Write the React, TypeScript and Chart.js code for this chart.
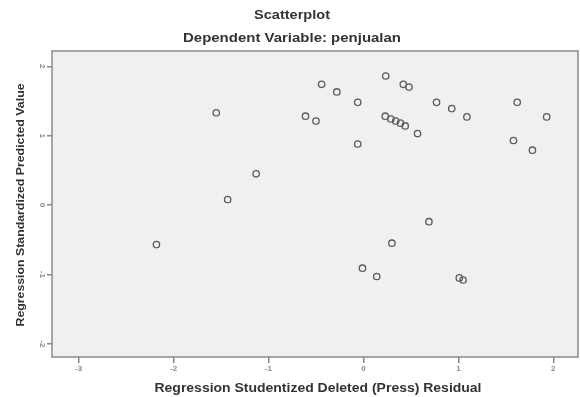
import React, { useEffect, useRef } from "react";
import { Chart, registerables } from "chart.js";

Chart.register(...registerables);

const titleText = "Scatterplot";
const subtitleText = "Dependent Variable: penjualan";
const xAxisTitle = "Regression Studentized Deleted (Press) Residual";
const yAxisTitle = "Regression Standardized Predicted Value";

const xTicks = [-3, -2, -1, 0, 1, 2];
const yTicks = [-2, -1, 0, 1, 2];

const residuals = [
  -1.55, -0.44, -0.28, -0.06, 0.235, 0.42, 0.48, 0.77, 0.93, 1.09, 1.62, 1.93,
  1.58, 1.78, -0.61, -0.5, 0.23, 0.29, 0.34, 0.39, 0.44, 0.57, -0.06, -1.13,
  -1.43, -2.18, 0.69, 0.3, -0.01, 0.14, 1.01, 1.05,
];
const predicted = [
  1.33, 1.74, 1.63, 1.48, 1.86, 1.74, 1.7, 1.48, 1.39, 1.27, 1.48, 1.27,
  0.93, 0.79, 1.28, 1.21, 1.28, 1.24, 1.21, 1.18, 1.14, 1.03, 0.88, 0.45,
  0.08, -0.57, -0.24, -0.55, -0.91, -1.03, -1.05, -1.08,
];

const FONT = "'Liberation Sans', Arial, Helvetica, sans-serif";

function stretchedText(ctx: any, text: string, x: number, y: number, font: string, width: number) {
  ctx.save();
  ctx.font = font;
  const w = ctx.measureText(text).width;
  ctx.translate(x, y);
  ctx.scale(width / w, 1);
  ctx.fillText(text, 0, 0);
  ctx.restore();
}

const framePlugin = {
  id: "frame",
  beforeDatasetsDraw(chart: any) {
    const { ctx, chartArea } = chart;
    ctx.save();
    ctx.fillStyle = "#f0f0f0";
    ctx.fillRect(chartArea.left, chartArea.top, chartArea.right - chartArea.left, chartArea.bottom - chartArea.top);
    ctx.strokeStyle = "#8a8a8a";
    ctx.lineWidth = 1.5;
    ctx.strokeRect(chartArea.left, chartArea.top, chartArea.right - chartArea.left, chartArea.bottom - chartArea.top);
    ctx.restore();
  },
  afterDraw(chart: any) {
    const { ctx } = chart;
    ctx.save();
    ctx.fillStyle = "#333";
    ctx.textAlign = "center";
    ctx.textBaseline = "middle";
    stretchedText(ctx, titleText, 292, 16, `bold 12px ${FONT}`, 76);
    stretchedText(ctx, subtitleText, 292, 39, `bold 12.5px ${FONT}`, 218);
    stretchedText(ctx, xAxisTitle, 318, 389, `bold 12px ${FONT}`, 327);
    ctx.translate(21, 205);
    ctx.rotate(-Math.PI / 2);
    stretchedText(ctx, yAxisTitle, 0, 0, `bold 11.5px ${FONT}`, 243);
    ctx.restore();
  },
};

export default function App() {
  const ref = useRef<HTMLCanvasElement>(null);
  useEffect(() => {
    document.body.style.margin = "0";
    const chart = new Chart(ref.current!, {
      type: "scatter",
      data: {
        datasets: [
          {
            data: residuals.map((x, i) => ({ x, y: predicted[i] })),
            pointStyle: "circle",
            pointRadius: 3.2,
            pointBorderWidth: 1.3,
            pointBorderColor: "#5a5a5a",
            pointBackgroundColor: "rgba(0,0,0,0)",
          },
        ],
      },
      options: {
        animation: false,
        responsive: false,
        layout: { autoPadding: false, padding: { top: 51, left: 0, right: 2, bottom: 0 } },
        plugins: { legend: { display: false }, tooltip: { enabled: false } },
        scales: {
          x: {
            type: "linear",
            min: -3.28,
            max: 2.26,
            afterBuildTicks: (s: any) => {
              s.ticks = xTicks.map((v) => ({ value: v }));
            },
            afterFit: (s: any) => {
              s.height = 40;
              s.paddingLeft = 0;
              s.paddingRight = 0;
            },
            border: { display: false },
            grid: { drawOnChartArea: false, drawTicks: true, tickLength: 6, tickColor: "#888", lineWidth: 1.5 },
            ticks: { color: "#888", font: { size: 8, family: FONT, weight: "bold" }, padding: 1, maxRotation: 0, minRotation: 0 },
          },
          y: {
            type: "linear",
            min: -2.19,
            max: 2.22,
            afterBuildTicks: (s: any) => {
              s.ticks = yTicks.map((v) => ({ value: v }));
            },
            afterFit: (s: any) => {
              s.width = 52;
              s.paddingTop = 0;
              s.paddingBottom = 0;
            },
            border: { display: false },
            grid: { drawOnChartArea: false, drawTicks: true, tickLength: 5, tickColor: "#888", lineWidth: 1.5 },
            ticks: { color: "#888", font: { size: 8, family: FONT, weight: "bold" }, padding: 1, minRotation: -90, maxRotation: -90, crossAlign: "center" },
          },
        },
      },
      plugins: [framePlugin],
    } as any);
    return () => chart.destroy();
  }, []);
  return <canvas ref={ref} width={580} height={397} style={{ display: "block" }} />;
}
